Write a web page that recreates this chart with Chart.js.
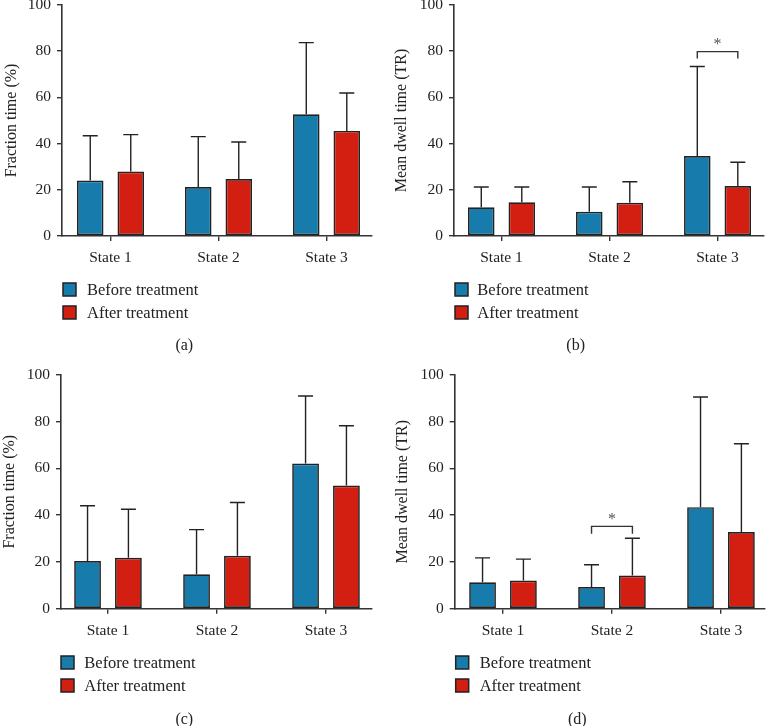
<!DOCTYPE html>
<html><head><meta charset="utf-8">
<script src="https://cdn.jsdelivr.net/npm/chart.js@4/dist/chart.umd.min.js"></script>
<style>
html,body{margin:0;padding:0;background:#fff;}
#wrap{position:relative;width:768px;height:726px;overflow:hidden;}
.panel{position:absolute;width:384px;height:363px;}
canvas{display:block;}
</style></head><body>
<div id="wrap">
<div class="panel" style="left:0;top:0"><canvas id="ca" width="384" height="363"></canvas></div>
<div class="panel" style="left:384px;top:0"><canvas id="cb" width="384" height="363"></canvas></div>
<div class="panel" style="left:0;top:363px"><canvas id="cc" width="384" height="363"></canvas></div>
<div class="panel" style="left:384px;top:363px"><canvas id="cd" width="384" height="363"></canvas></div>
</div>
<script>
// ---- data ----
const categories = ['State 1', 'State 2', 'State 3'];
const seriesNames = ['Before treatment', 'After treatment'];
const yTickValues = [0, 20, 40, 60, 80, 100];

// (a) Fraction time (%)
const aBefore   = [24.0, 21.2, 52.7];
const aBeforeSD = [19.4, 21.8, 31.0];
const aAfter    = [27.9, 24.7, 45.5];
const aAfterSD  = [16.0, 16.0, 16.4];

// (b) Mean dwell time (TR)
const bBefore   = [12.4, 10.5, 34.6];
const bBeforeSD = [8.8, 10.7, 38.8];
const bAfter    = [14.6, 14.4, 21.6];
const bAfterSD  = [6.6, 9.1, 10.3];
const bSig = [{ category: 2, level: 79.8, leg: 76.8, label: '*' }];

// (c) Fraction time (%)
const cBefore   = [20.4, 14.7, 62.0];
const cBeforeSD = [23.6, 19.1, 28.9];
const cAfter    = [21.8, 22.6, 52.6];
const cAfterSD  = [20.7, 22.8, 25.6];

// (d) Mean dwell time (TR)
const dBefore   = [11.3, 9.3, 43.4];
const dBeforeSD = [10.4, 9.5, 47.1];
const dAfter    = [12.0, 14.2, 32.8];
const dAfterSD  = [9.2, 15.9, 37.7];
const dSig = [{ category: 1, level: 35.2, leg: 32.0, label: '*' }];

// ---- styling ----
const FONT = "'Liberation Serif', 'Times New Roman', serif";
const BLUE = '#177bab';
const RED = '#d21f12';
const INK = '#222222';
const AXIS = '#333333';

const errorBarPlugin = {
  id: 'errorBars',
  afterDatasetsDraw(chart, args, opts) {
    const ctx = chart.ctx;
    const ys = chart.scales.y;
    ctx.save();
    ctx.strokeStyle = INK;
    ctx.lineWidth = 1.4;
    chart.data.datasets.forEach((ds, di) => {
      const meta = chart.getDatasetMeta(di);
      meta.data.forEach((bar, i) => {
        const top = ys.getPixelForValue(ds.data[i].y + ds.errors[i]);
        ctx.beginPath();
        ctx.moveTo(bar.x, bar.y);
        ctx.lineTo(bar.x, top);
        ctx.moveTo(bar.x - 7.5, top);
        ctx.lineTo(bar.x + 7.5, top);
        ctx.stroke();
      });
    });
    (opts.sig || []).forEach(s => {
      const b0 = chart.getDatasetMeta(0).data[s.category];
      const b1 = chart.getDatasetMeta(1).data[s.category];
      const yl = ys.getPixelForValue(s.level);
      const yg = ys.getPixelForValue(s.leg);
      ctx.strokeStyle = AXIS;
      ctx.lineWidth = 1.4;
      ctx.beginPath();
      ctx.moveTo(b0.x, yg);
      ctx.lineTo(b0.x, yl);
      ctx.lineTo(b1.x, yl);
      ctx.lineTo(b1.x, yg);
      ctx.stroke();
      ctx.fillStyle = '#555';
      ctx.font = '16px ' + FONT;
      ctx.textAlign = 'center';
      ctx.textBaseline = 'middle';
      ctx.fillText(s.label, (b0.x + b1.x) / 2, yl - 7);
    });
    ctx.restore();
  }
};

const decoPlugin = {
  id: 'panelDeco',
  afterDraw(chart, args, o) {
    const ctx = chart.ctx;
    ctx.save();
    chart.data.datasets.forEach((ds, i) => {
      const y0 = o.ly + i * o.gap;
      ctx.fillStyle = ds.backgroundColor;
      ctx.fillRect(o.lx, y0, 13, 13);
      ctx.strokeStyle = INK;
      ctx.lineWidth = 1.5;
      ctx.strokeRect(o.lx, y0, 13, 13);
      ctx.fillStyle = INK;
      ctx.font = '16.5px ' + FONT;
      ctx.textAlign = 'left';
      ctx.textBaseline = 'middle';
      ctx.fillText(ds.label, o.tx, y0 + 7.5);
    });
    ctx.font = '16px ' + FONT;
    ctx.textAlign = 'center';
    ctx.textBaseline = 'middle';
    ctx.fillStyle = INK;
    ctx.fillText(o.caption, o.cx, o.cy);
    ctx.restore();
  }
};

function makePanel(id, title, before, beforeSD, after, afterSD, sig, L) {
  const toPts = arr => arr.map((v, i) => ({ x: i, y: v }));
  return new Chart(document.getElementById(id), {
    type: 'bar',
    data: {
      datasets: [
        { label: seriesNames[0], data: toPts(before), errors: beforeSD,
          backgroundColor: BLUE, borderColor: INK, borderWidth: 1.7, borderSkipped: false },
        { label: seriesNames[1], data: toPts(after), errors: afterSD,
          backgroundColor: RED, borderColor: INK, borderWidth: 1.7, borderSkipped: false }
      ]
    },
    plugins: [errorBarPlugin, decoPlugin],
    options: {
      responsive: false,
      animation: false,
      devicePixelRatio: 1,
      layout: { padding: { left: 0, top: L.top, right: 384 - L.right, bottom: 0 } },
      datasets: { bar: { categoryPercentage: 0.75, barPercentage: 0.655 } },
      plugins: {
        legend: { display: false },
        tooltip: { enabled: false },
        errorBars: { sig: sig },
        panelDeco: L.deco
      },
      scales: {
        x: {
          type: 'linear', min: L.xmin, max: L.xmax, offset: false,
          afterBuildTicks: s => { s.ticks = categories.map((c, i) => ({ value: i })); },
          afterFit: s => { s.height = 363 - L.bottom; s.paddingLeft = 0; s.paddingRight = 0; },
          ticks: { callback: v => categories[v], font: { family: FONT, size: 15.5 }, color: INK,
                   padding: 8, maxRotation: 0, autoSkip: false },
          grid: { display: true, drawOnChartArea: false, drawTicks: true, tickLength: 5,
                  color: AXIS, lineWidth: 1.4, offset: false },
          border: { display: true, color: AXIS, width: 1.6 }
        },
        y: {
          type: 'linear', min: 0, max: 100,
          afterBuildTicks: s => { s.ticks = yTickValues.map(v => ({ value: v })); },
          afterFit: s => { s.width = L.axisX; s.paddingTop = 0; s.paddingBottom = 0; },
          ticks: { font: { family: FONT, size: 15.5 }, color: INK, padding: 6 },
          title: { display: true, text: title, font: { family: FONT, size: 16 }, color: INK,
                   padding: { top: L.titlePad, bottom: 0 } },
          grid: { display: true, drawOnChartArea: false, drawTicks: true, tickLength: 5,
                  color: AXIS, lineWidth: 1.4 },
          border: { display: true, color: AXIS, width: 1.6 }
        }
      }
    }
  });
}

makePanel('ca', 'Fraction time (%)', aBefore, aBeforeSD, aAfter, aAfterSD, [], {
  axisX: 62, top: 5, bottom: 236, right: 372, xmin: -0.449, xmax: 2.421, titlePad: 2,
  deco: { lx: 63, ly: 283, gap: 23, tx: 87, caption: '(a)', cx: 184.3, cy: 346 }
});
makePanel('cb', 'Mean dwell time (TR)', bBefore, bBeforeSD, bAfter, bAfterSD, bSig, {
  axisX: 70, top: 5, bottom: 236, right: 380, xmin: -0.44, xmax: 2.43, titlePad: 8.5,
  deco: { lx: 71, ly: 283, gap: 23, tx: 93.3, caption: '(b)', cx: 191.7, cy: 345.7 }
});
makePanel('cc', 'Fraction time (%)', cBefore, cBeforeSD, cAfter, cAfterSD, [], {
  axisX: 61, top: 11.7, bottom: 245.7, right: 372, xmin: -0.431, xmax: 2.422, titlePad: 0.2,
  deco: { lx: 61, ly: 293, gap: 23, tx: 84.3, caption: '(c)', cx: 184.3, cy: 356.7 }
});
makePanel('cd', 'Mean dwell time (TR)', dBefore, dBeforeSD, dAfter, dAfterSD, dSig, {
  axisX: 70.7, top: 11.7, bottom: 245.7, right: 381, xmin: -0.443, xmax: 2.404, titlePad: 9.3,
  deco: { lx: 71.7, ly: 293, gap: 23, tx: 95.7, caption: '(d)', cx: 193.3, cy: 357 }
});
</script>
</body></html>
